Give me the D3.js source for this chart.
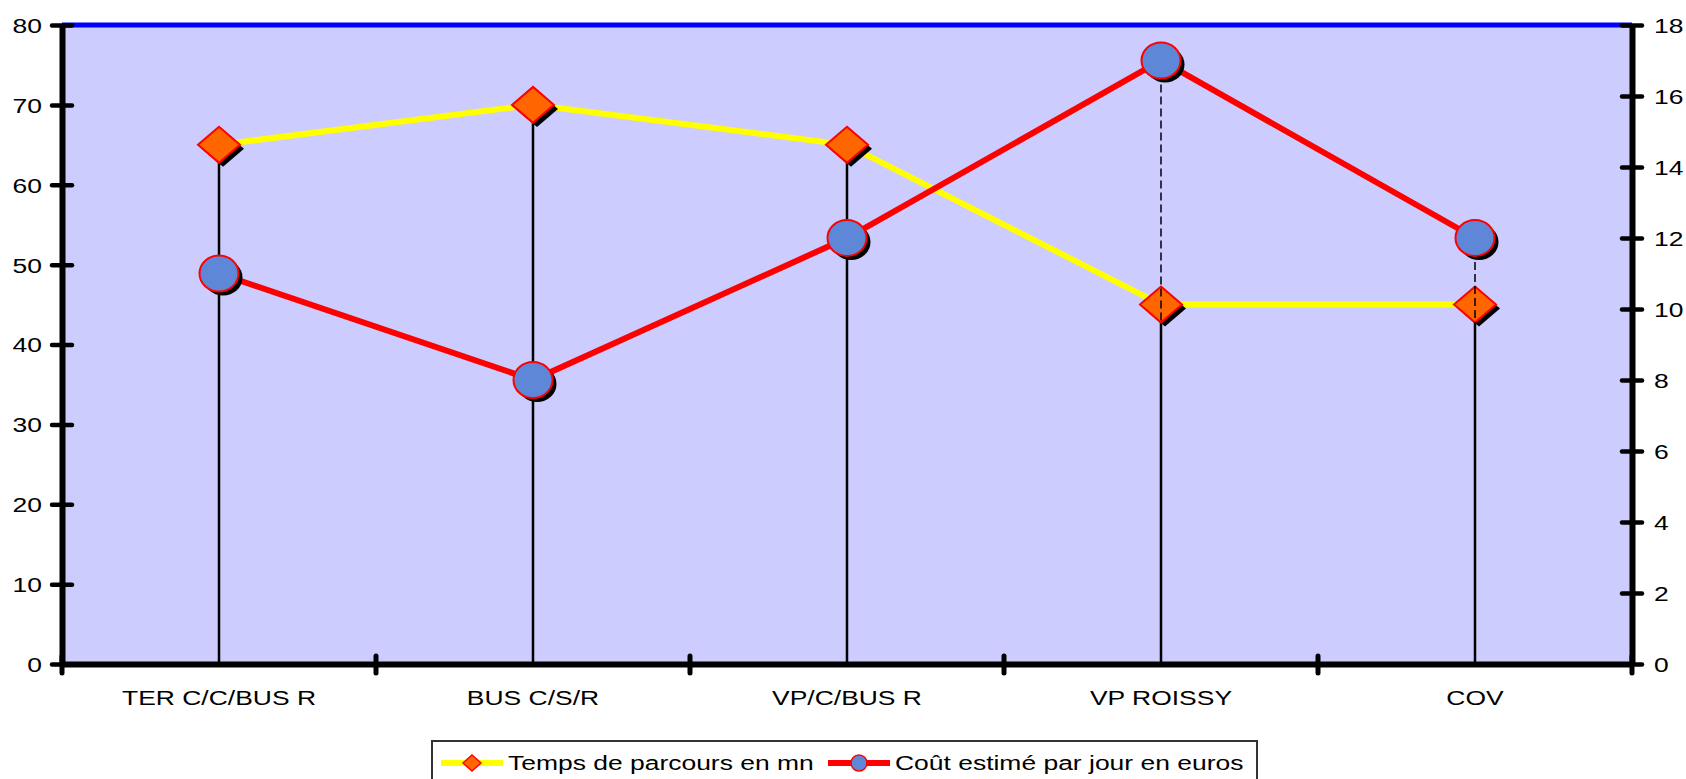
<!DOCTYPE html>
<html>
<head>
<meta charset="utf-8">
<script src="https://cdn.jsdelivr.net/npm/d3@7"></script>
<style>
  body { margin: 0; background: #fff; }
  svg { display: block; font-family: "Liberation Sans", Arial, sans-serif; }
</style>
</head>
<body>
<div class="chart"></div>
<script>
// chart data
var categories = ["TER C/C/BUS R", "BUS C/S/R", "VP/C/BUS R", "VP ROISSY", "COV"];
var tempsValues = [65, 70, 65, 45, 45];   // left axis, minutes
var coutValues = [11, 8, 12, 17, 12];     // right axis, euros
var leftTicks = [0, 10, 20, 30, 40, 50, 60, 70, 80];
var rightTicks = [0, 2, 4, 6, 8, 10, 12, 14, 16, 18];
var seriesNames = ["Temps de parcours en mn", "Coût estimé par jour en euros"];

var width = 1686, height = 779;
var plot = { left: 62, right: 1632, top: 25, bottom: 664 };
var fontSize = 21;
var textStretch = 1.26; // glyphs in the original are drawn wide

var svg = d3.select(".chart").append("svg")
    .attr("width", width)
    .attr("height", height);

var x = d3.scaleBand()
    .domain(categories)
    .range([plot.left, plot.right]);

var yLeft = d3.scaleLinear().domain([0, 80]).range([plot.bottom, plot.top]);
var yRight = d3.scaleLinear().domain([0, 18]).range([plot.bottom, plot.top]);

var cx = function(d, i) { return x(categories[i]) + x.bandwidth() / 2; };

// plot area
svg.append("rect")
    .attr("x", plot.left)
    .attr("y", plot.top)
    .attr("width", plot.right - plot.left)
    .attr("height", plot.bottom - plot.top)
    .attr("fill", "#ccccff");

// blue line on top at 80
svg.append("line")
    .attr("x1", plot.left).attr("x2", plot.right)
    .attr("y1", yLeft(80)).attr("y2", yLeft(80))
    .attr("stroke", "#0000ff")
    .attr("stroke-width", 5);

// left axis
var leftAxis = svg.append("g")
    .attr("transform", "translate(" + plot.left + ",0)")
    .call(d3.axisLeft(yLeft).tickValues(leftTicks).tickSizeOuter(0).tickSize(0));
leftAxis.select(".domain").attr("stroke", "#000").attr("stroke-width", 6);
leftAxis.selectAll(".tick line")
    .attr("x1", -10).attr("x2", 10)
    .attr("stroke", "#000").attr("stroke-width", 4.5).attr("stroke-linecap", "round");
leftAxis.selectAll(".tick text")
    .attr("x", null).attr("dy", null)
    .attr("transform", "translate(-20,0) scale(" + textStretch + ",1)")
    .attr("dominant-baseline", "central")
    .attr("font-size", fontSize).attr("fill", "#000")
    .attr("font-family", "Liberation Sans, Arial, sans-serif");

// right axis
var rightAxis = svg.append("g")
    .attr("transform", "translate(" + plot.right + ",0)")
    .call(d3.axisRight(yRight).tickValues(rightTicks).tickSizeOuter(0).tickSize(0));
rightAxis.select(".domain").attr("stroke", "#000").attr("stroke-width", 6);
rightAxis.selectAll(".tick line")
    .attr("x1", -10).attr("x2", 10)
    .attr("stroke", "#000").attr("stroke-width", 4.5).attr("stroke-linecap", "round");
rightAxis.selectAll(".tick text")
    .attr("x", null).attr("dy", null)
    .attr("transform", "translate(22,0) scale(" + textStretch + ",1)")
    .attr("dominant-baseline", "central")
    .attr("font-size", fontSize).attr("fill", "#000")
    .attr("font-family", "Liberation Sans, Arial, sans-serif");

// bottom axis, labels in band centers
var bottomAxis = svg.append("g")
    .attr("transform", "translate(0," + plot.bottom + ")")
    .call(d3.axisBottom(x).tickSize(0).tickSizeOuter(0));
bottomAxis.select(".domain").attr("stroke", "#000").attr("stroke-width", 6);
bottomAxis.selectAll(".tick text")
    .attr("y", null).attr("dy", null)
    .attr("transform", "translate(0,41) scale(" + textStretch + ",1)")
    .attr("font-size", fontSize).attr("fill", "#000")
    .attr("font-family", "Liberation Sans, Arial, sans-serif");

// category boundary ticks
var boundaries = categories.map(function(c) { return x(c); }).concat([x.range()[1]]);
bottomAxis.selectAll("line.boundary")
    .data(boundaries)
    .enter().append("line")
    .attr("class", "boundary")
    .attr("x1", function(d) { return d; }).attr("x2", function(d) { return d; })
    .attr("y1", -8).attr("y2", 9)
    .attr("stroke", "#000").attr("stroke-width", 5).attr("stroke-linecap", "round");

// solid drop lines from the time series
svg.append("g").selectAll("line")
    .data(tempsValues)
    .enter().append("line")
    .attr("x1", cx).attr("x2", cx)
    .attr("y1", function(d) { return yLeft(d); })
    .attr("y2", plot.bottom)
    .attr("stroke", "#000").attr("stroke-width", 2.5);

var diamond = function(w, h) {
    return "M0," + (-h / 2) + "L" + (w / 2) + ",0L0," + (h / 2) + "L" + (-w / 2) + ",0Z";
};

// time series line + markers
svg.append("path")
    .datum(tempsValues)
    .attr("fill", "none")
    .attr("stroke", "#ffff00")
    .attr("stroke-width", 6)
    .attr("d", d3.line().x(cx).y(function(d) { return yLeft(d); }));

var tempsMarkers = svg.append("g").selectAll("g")
    .data(tempsValues)
    .enter().append("g")
    .attr("transform", function(d, i) { return "translate(" + cx(d, i) + "," + yLeft(d) + ")"; });
tempsMarkers.append("path")
    .attr("d", diamond(42, 36))
    .attr("transform", "translate(4,4)")
    .attr("fill", "#000");
tempsMarkers.append("path")
    .attr("d", diamond(42, 36))
    .attr("fill", "#ff6600")
    .attr("stroke", "#ff0000")
    .attr("stroke-width", 2);

// dashed drop lines from the cost series
svg.append("g").selectAll("line")
    .data(coutValues)
    .enter().append("line")
    .attr("x1", cx).attr("x2", cx)
    .attr("y1", function(d) { return yRight(d); })
    .attr("y2", plot.bottom)
    .attr("stroke", "#000").attr("stroke-width", 1.5)
    .attr("stroke-dasharray", "8,4");

// cost line + markers
svg.append("path")
    .datum(coutValues)
    .attr("fill", "none")
    .attr("stroke", "#ff0000")
    .attr("stroke-width", 6)
    .attr("d", d3.line().x(cx).y(function(d) { return yRight(d); }));

var coutMarkers = svg.append("g").selectAll("g")
    .data(coutValues)
    .enter().append("g")
    .attr("transform", function(d, i) { return "translate(" + cx(d, i) + "," + yRight(d) + ")"; });
coutMarkers.append("ellipse")
    .attr("cx", 4).attr("cy", 4)
    .attr("rx", 19.5).attr("ry", 18)
    .attr("fill", "#000");
coutMarkers.append("ellipse")
    .attr("rx", 19.5).attr("ry", 18)
    .attr("fill", "#5f87d8")
    .attr("stroke", "#ff0000")
    .attr("stroke-width", 2);

// legend
var legend = svg.append("g");
legend.append("rect")
    .attr("x", 432).attr("y", 741)
    .attr("width", 825).attr("height", 60)
    .attr("fill", "#fff")
    .attr("stroke", "#333").attr("stroke-width", 2);

var legendItems = [
    { name: seriesNames[0], x: 441, color: "#ffff00" },
    { name: seriesNames[1], x: 828, color: "#ff0000" }
];
var item = legend.selectAll("g.item")
    .data(legendItems)
    .enter().append("g")
    .attr("class", "item")
    .attr("transform", function(d) { return "translate(" + d.x + ",763)"; });
item.append("line")
    .attr("x1", 0).attr("x2", 62)
    .attr("stroke", function(d) { return d.color; })
    .attr("stroke-width", 6);
item.filter(function(d, i) { return i === 0; }).append("path")
    .attr("d", diamond(18, 16))
    .attr("transform", "translate(31,0)")
    .attr("fill", "#ff6600").attr("stroke", "#ff0000").attr("stroke-width", 1.5);
item.filter(function(d, i) { return i === 1; }).append("ellipse")
    .attr("cx", 31).attr("rx", 8).attr("ry", 8)
    .attr("fill", "#5f87d8").attr("stroke", "#ff0000").attr("stroke-width", 1.5);
item.append("text")
    .attr("transform", "translate(67,7) scale(" + textStretch + ",1)")
    .attr("font-size", fontSize)
    .attr("fill", "#000")
    .text(function(d) { return d.name; });
</script>
</body>
</html>
